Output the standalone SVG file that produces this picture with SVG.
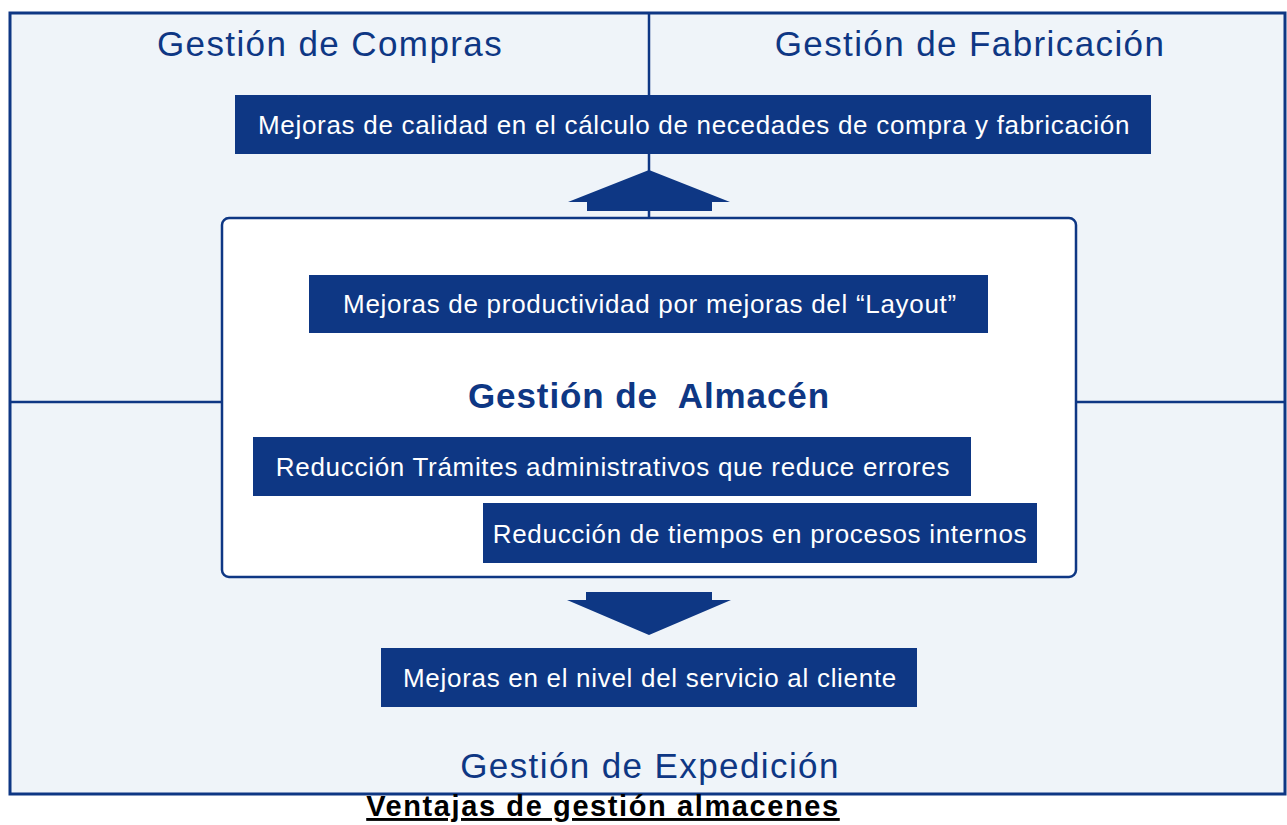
<svg xmlns="http://www.w3.org/2000/svg" width="1287" height="825" viewBox="0 0 1287 825">
<style>
.box{fill:#0e3784}
.bt{fill:#fff;font-family:"Liberation Sans",Arial,sans-serif;font-size:26px;letter-spacing:0.7px;text-anchor:middle}
.h{fill:#0e3784;font-family:"Liberation Sans",Arial,sans-serif;font-size:35px;letter-spacing:1.4px;text-anchor:middle}
.ln{stroke:#0e3784;stroke-width:2.5;fill:none}
.ar{fill:#0e3784}
</style>
<rect width="1287" height="825" fill="#fff"/>
<g id="frame">
<rect x="10" y="13" width="1275" height="781" fill="#eff4f9" stroke="#0e3784" stroke-width="3"/>
</g>
<g id="connectors">
<line class="ln" x1="649" y1="13" x2="649" y2="217"/>
<line class="ln" x1="10" y1="402" x2="222" y2="402"/>
<line class="ln" x1="1076" y1="402" x2="1285" y2="402"/>
<polygon class="ar" points="649,170 730,202 712,202 712,211 587,211 587,202 568,202"/>
<polygon class="ar" points="586,592 712,592 712,600 731,600 649,635 567,600 586,600"/>
</g>
<g id="almacen">
<rect x="222" y="218" width="854" height="359" rx="7" fill="#fff" stroke="#0e3784" stroke-width="2.5"/>
<text class="h" x="649" y="408" font-weight="bold" style="letter-spacing:0.9px;white-space:pre" xml:space="preserve">Gestión de  Almacén</text>
</g>
<g id="compras"><text class="h" x="330" y="56">Gestión de Compras</text></g>
<g id="fabricacion"><text class="h" x="970" y="56">Gestión de Fabricación</text></g>
<g id="expedicion"><text class="h" x="650" y="778">Gestión de Expedición</text></g>
<g id="n1"><rect class="box" x="235" y="95" width="916" height="59"/><text class="bt" x="694" y="134">Mejoras de calidad en el cálculo de necedades de compra y fabricación</text></g>
<g id="n2"><rect class="box" x="309" y="275" width="679" height="58"/><text class="bt" x="650" y="313">Mejoras de productividad por mejoras del “Layout”</text></g>
<g id="n3"><rect class="box" x="253" y="437" width="718" height="59"/><text class="bt" x="613" y="476">Reducción Trámites administrativos que reduce errores</text></g>
<g id="n4"><rect class="box" x="483" y="503" width="554" height="60"/><text class="bt" x="760" y="543">Reducción de tiempos en procesos internos</text></g>
<g id="n5"><rect class="box" x="381" y="648" width="536" height="59"/><text class="bt" x="650" y="687">Mejoras en el nivel del servicio al cliente</text></g>
<g id="caption"><text x="603" y="816" font-family="Liberation Sans,Arial,sans-serif" font-size="29" font-weight="bold" letter-spacing="1.6" text-anchor="middle" text-decoration="underline" fill="#000">Ventajas de gestión almacenes</text></g>
</svg>
